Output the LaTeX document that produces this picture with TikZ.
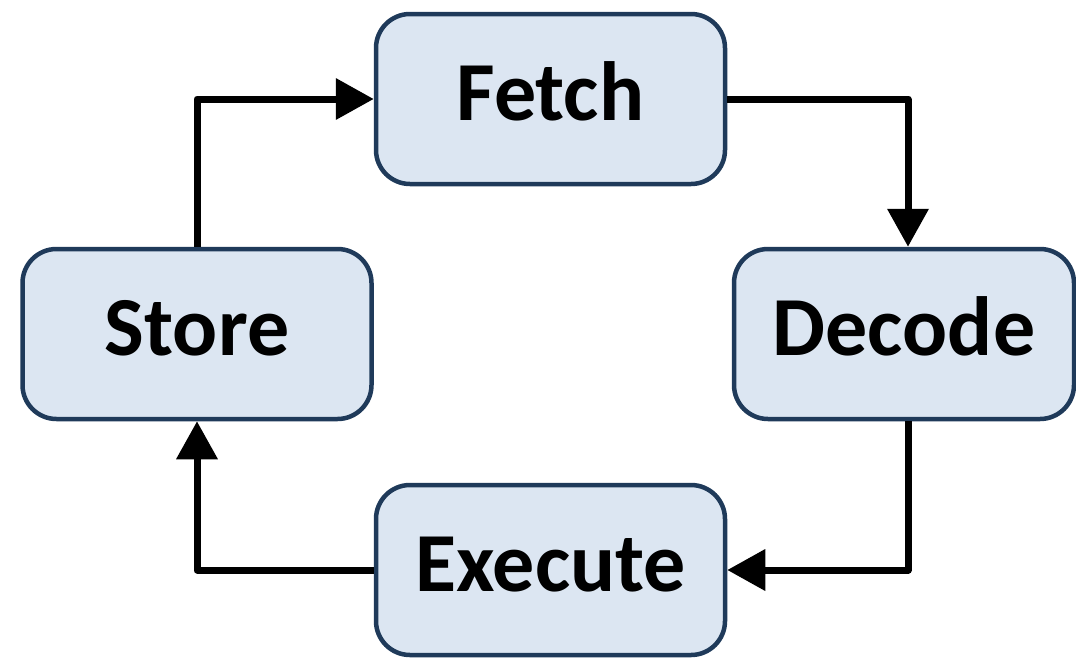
\documentclass[tikz,border=0pt]{standalone}
\usepackage{fontspec}
\setmainfont{Carlito}
\usetikzlibrary{arrows.meta}

\definecolor{boxfill}{HTML}{DCE6F2}
\definecolor{boxline}{HTML}{1F3A5A}

\begin{document}
\begin{tikzpicture}[x=1pt,y=-1pt,
    stage/.style={draw=boxline, fill=boxfill, line width=4.5pt, rounded corners=34pt,
      minimum width=349pt, minimum height=170pt, inner sep=0pt,
      text height=55pt, text depth=12pt,
      font=\fontsize{84}{100}\selectfont\bfseries},
    flow/.style={line width=7pt, line join=round, -{Triangle[width=40pt,length=38pt]}}]
    \useasboundingbox (0,0) rectangle (1076,659);
    \node[stage] (fetch) at (550.5,99) {Fetch};
    \node[stage] (store) at (197,334) {Store};
    \node[stage, minimum width=340pt] (decode) at (904,334) {Decode};
    \node[stage] (execute) at (550.5,570) {Execute};
    % clockwise cycle
    \draw[flow] (fetch.east) -| (decode.north -| 908,0);
    \draw[flow] (decode.south -| 908,0) |- (execute.east);
    \draw[flow] (execute.west) -| (store.south);
    \draw[flow] (store.north) |- (fetch.west);
\end{tikzpicture}
\end{document}
